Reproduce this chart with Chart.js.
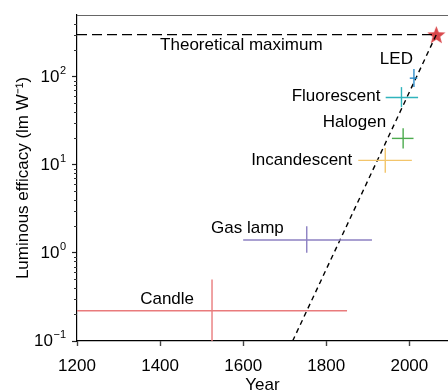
<!DOCTYPE html>
<html>
<head>
<meta charset="utf-8">
<script src="https://cdn.jsdelivr.net/npm/chart.js@4.4.1/dist/chart.umd.min.js"></script>
<style>
  html, body { margin: 0; padding: 0; background: #fff; }
  canvas { display: block; }
</style>
</head>
<body>
<canvas id="chart" width="448" height="390"></canvas>
<script>
// light sources, year range and efficacy range (lm/W)
const lamps = ["Candle", "Gas lamp", "Incandescent", "Halogen", "Fluorescent", "LED"];
const yearMid = [1525, 1753, 1942, 1985, 1981, 2011];
const yearFrom = [1100, 1600, 1877, 1958, 1943, 2001];
const yearTo = [1850, 1910, 2006, 2010, 2021, 2019];
const efficacyMid = [0.22, 1.4, 11.2, 19.9, 58, 96];
const efficacyLow = [0.04, 1.0, 8.1, 15.3, 45, 76];
const efficacyHigh = [0.5, 2.0, 15.5, 26, 76, 122];

// theoretical maximum and the trend towards it
const maxLabel = "Theoretical maximum";
const maxYears = [1200, 2065];
const maxEfficacy = 300;
const trendYears = [1719, 2065];
const trendEfficacy = [0.1, 300];

const xTicks = [1200, 1400, 1600, 1800, 2000];
const yTicks = [0.1, 1, 10, 100];
const yExponents = ["\u22121", "0", "1", "2"];
const yMinor = [0.2, 0.3, 0.4, 0.5, 0.6, 0.7, 0.8, 0.9, 2, 3, 4, 5, 6, 7, 8, 9,
  20, 30, 40, 50, 60, 70, 80, 90, 200, 300, 400];

// styles
const FONT = "'Liberation Sans', Arial, Helvetica, sans-serif";
const lampColors = ["#e97b7c", "#8c80c2", "#f3c56b", "#4cab4e", "#30b4bd", "#2d8cc9"];
const labelShift = [[-18, -12], [-23, -11.5], [-33, 0], [-17, -16], [-21, -1], [-1, -19]];
const starColor = "#d9474b";

function makeStar(size, color) {
  const c = document.createElement("canvas");
  c.width = size; c.height = size;
  const g = c.getContext("2d");
  const r = size / 2, ri = r * 0.42;
  g.beginPath();
  for (let i = 0; i < 10; i++) {
    const a = -Math.PI / 2 + i * Math.PI / 5;
    const rr = i % 2 ? ri : r;
    g.lineTo(r + rr * Math.cos(a), r + 1 + rr * Math.sin(a));
  }
  g.closePath();
  g.fillStyle = color;
  g.fill();
  return c;
}

const datasets = [];
lamps.forEach((name, i) => {
  datasets.push({
    label: name,
    data: [{ x: yearFrom[i], y: efficacyMid[i] }, { x: yearTo[i], y: efficacyMid[i] }],
    borderColor: lampColors[i], borderWidth: 1.4, showLine: true, pointRadius: 0
  });
  datasets.push({
    label: name + " range",
    data: [{ x: yearMid[i], y: efficacyLow[i] }, { x: yearMid[i], y: efficacyHigh[i] }],
    borderColor: lampColors[i], borderWidth: 1.4, showLine: true, pointRadius: 0
  });
});
datasets.push({
  label: maxLabel,
  data: maxYears.map((x) => ({ x, y: maxEfficacy })),
  borderColor: "#000", borderWidth: 1.3, borderDash: [10, 5], showLine: true, pointRadius: 0
});
datasets.push({
  label: "trend",
  data: trendYears.map((x, i) => ({ x, y: trendEfficacy[i] })),
  borderColor: "#000", borderWidth: 1.4, borderDash: [5, 4], showLine: true, pointRadius: 0
});
datasets.push({
  label: "max point",
  data: [{ x: maxYears[1], y: maxEfficacy }],
  pointStyle: makeStar(19, starColor), pointRadius: 9, showLine: false, clip: false
});

// labels, top frame, minor ticks and 10^n tick labels
const extras = {
  id: "extras",
  afterDatasetsDraw(chart) {
    const { ctx, chartArea, scales: { x, y } } = chart;
    ctx.save();
    ctx.fillStyle = "#000";
    ctx.font = "17px " + FONT;
    ctx.textBaseline = "middle";
    ctx.textAlign = "right";
    lamps.forEach((name, i) => {
      const px = x.getPixelForValue(yearMid[i]) + labelShift[i][0];
      const py = y.getPixelForValue(efficacyMid[i]) + labelShift[i][1];
      ctx.fillText(name, px, py);
    });
    ctx.textAlign = "left";
    ctx.fillText(maxLabel, x.getPixelForValue(1400), y.getPixelForValue(maxEfficacy) + 11);

    // top frame line
    ctx.strokeStyle = "#666";
    ctx.lineWidth = 1.2;
    ctx.beginPath();
    ctx.moveTo(chartArea.left, chartArea.top + 0.5);
    ctx.lineTo(chartArea.right, chartArea.top + 0.5);
    ctx.stroke();

    // minor ticks on the log axis
    ctx.strokeStyle = "#333";
    ctx.lineWidth = 1;
    ctx.beginPath();
    yMinor.forEach((v) => {
      const py = Math.round(y.getPixelForValue(v)) + 0.5;
      ctx.moveTo(chartArea.left - 3, py);
      ctx.lineTo(chartArea.left, py);
    });
    ctx.stroke();

    // 10^n labels
    yTicks.forEach((v, i) => {
      const py = y.getPixelForValue(v);
      const right = chartArea.left - 11;
      ctx.font = "11px " + FONT;
      ctx.textAlign = "right";
      ctx.fillText(yExponents[i], right, py - 6);
      const w = ctx.measureText(yExponents[i]).width;
      ctx.font = "17px " + FONT;
      ctx.fillText("10", right - w - 0.5, py + 0.5);
    });
    ctx.restore();
  }
};

new Chart(document.getElementById("chart"), {
  type: "scatter",
  data: { datasets },
  options: {
    responsive: false,
    animation: false,
    devicePixelRatio: 1,
    layout: { autoPadding: false, padding: { top: 15, right: 0, left: 0, bottom: 0 } },
    plugins: { legend: { display: false }, tooltip: { enabled: false } },
    font: { family: FONT },
    scales: {
      x: {
        type: "linear",
        min: 1200,
        max: 2093,
        afterBuildTicks: (s) => { s.ticks = xTicks.map((value) => ({ value })); },
        afterFit: (s) => { s.height = 49; s.paddingLeft = 0; s.paddingRight = 0; },
        ticks: {
          color: "#000", padding: 10, font: { family: FONT, size: 17 }, maxRotation: 0,
          callback: (v) => String(v)
        },
        grid: { drawOnChartArea: false, drawTicks: true, tickLength: 5, tickColor: "#444", tickWidth: 1.4 },
        border: { color: "#000", width: 1.2 },
        title: {
          display: true, text: "Year", color: "#000",
          font: { family: FONT, size: 17, lineHeight: 1 }, padding: { top: 0, bottom: -3.5 }
        }
      },
      y: {
        type: "logarithmic",
        min: 0.1,
        max: 500,
        afterBuildTicks: (s) => { s.ticks = yTicks.map((value) => ({ value })); },
        afterFit: (s) => { s.width = 77; s.paddingTop = 0; s.paddingBottom = 0; },
        ticks: { display: false },
        grid: { drawOnChartArea: false, drawTicks: true, tickLength: 5, tickColor: "#222", tickWidth: 1.2 },
        border: { color: "#000", width: 1.2 },
        title: {
          display: true, text: "Luminous efficacy (lm W\u207B\u00B9)", color: "#000",
          font: { family: FONT, size: 17, lineHeight: 1 }, padding: { top: 15, bottom: 0 }
        }
      }
    }
  },
  plugins: [extras]
});
</script>
</body>
</html>
